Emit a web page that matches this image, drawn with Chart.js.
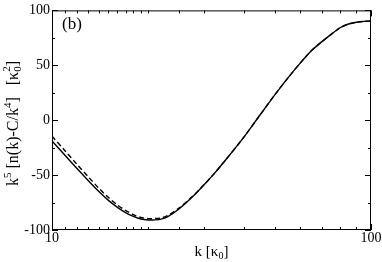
<!DOCTYPE html>
<html>
<head>
<meta charset="UTF-8">
<title>k^5 [n(k)-C/k^4]</title>
<script src="https://cdn.jsdelivr.net/npm/chart.js"></script>
<style>
  html, body { margin: 0; padding: 0; background: #fff; }
  #wrap { width: 382px; height: 262px; }
</style>
</head>
<body>
<div id="wrap"><canvas id="chart" width="382" height="262"></canvas></div>
<script>
  // values
  const kValues      = [10, 11, 12, 13, 14, 15, 16, 17, 18, 19, 20, 21, 22, 23, 25, 28, 30, 32, 35, 40, 45, 50, 55, 60, 65, 70, 75, 80, 85, 90, 95, 100];
  const solidValues  = [-19, -32.2, -44.3, -55.1, -64.7, -72.8, -79.2, -84.1, -87.6, -90, -90.9, -90.8, -90.1, -88, -80.8, -67.8, -58.6, -49.8, -36.3, -15.2, 5.2, 23.3, 38.8, 52, 63.2, 71.3, 78.2, 84.2, 87.6, 89.2, 90, 90.3];
  const dashedValues = [-14.5, -28, -40.5, -51.7, -61.7, -70.2, -77, -82.2, -86, -88.6, -89.6, -89.6, -89, -87, -80.1, -67.5, -58.6, -49.8, -36.3, -15.2, 5.2, 23.3, 38.8, 52, 63.2, 71.3, 78.2, 84.2, 87.6, 89.2, 90, 90.3];
  const xTickLabels = [10, 100];
  const yTickLabels = [-100, -50, 0, 50, 100];

  const serif = "'Liberation Serif', 'DejaVu Serif', serif";

  function drawRich(ctx, parts, cx, cy) {
    // parts: [text, size, dy, advance]
    let total = 0;
    parts.forEach(p => {
      ctx.font = p[1] + 'px ' + serif;
      if (p[3] !== false) total += ctx.measureText(p[0]).width;
    });
    let x = cx - total / 2;
    parts.forEach(p => {
      ctx.font = p[1] + 'px ' + serif;
      ctx.fillText(p[0], x, cy + p[2]);
      if (p[3] !== false) x += ctx.measureText(p[0]).width;
    });
  }

  const frame = {
    id: 'frame',
    afterDraw(chart) {
      const { ctx, chartArea: a, scales: { x, y } } = chart;
      ctx.save();
      ctx.strokeStyle = '#000';
      ctx.lineWidth = 1;
      ctx.strokeRect(a.left + 0.5, a.top + 0.5, a.right - a.left - 1, a.bottom - a.top - 1);
      ctx.beginPath();
      x.ticks.forEach(t => {
        const px = Math.round(x.getPixelForValue(t.value)) + 0.5;
        const len = xTickLabels.includes(t.value) ? 6 : 3;
        ctx.moveTo(px, a.bottom); ctx.lineTo(px, a.bottom - len);
        ctx.moveTo(px, a.top); ctx.lineTo(px, a.top + len);
      });
      y.ticks.forEach(t => {
        const py = Math.round(y.getPixelForValue(t.value)) + 0.5;
        const len = yTickLabels.includes(t.value) ? 6 : 3;
        ctx.moveTo(a.left, py); ctx.lineTo(a.left + len, py);
        ctx.moveTo(a.right, py); ctx.lineTo(a.right - len, py);
      });
      ctx.stroke();

      ctx.fillStyle = '#000';
      ctx.textBaseline = 'alphabetic';
      ctx.textAlign = 'left';
      // panel label
      ctx.font = '17px ' + serif;
      ctx.fillText('(b)', a.left + 10, 29);

      // x title
      drawRich(ctx, [['k [κ', 15, 0], ['0', 10, 3], [']', 15, 0]], (a.left + a.right) / 2, 256);

      // y title
      ctx.translate(18, 123.5);
      ctx.rotate(-Math.PI / 2);
      drawRich(ctx, [
        ['k', 16, 0], ['5', 11, -7], [' [n(k)-C/k', 16, 0], ['4', 11, -7], [']   [κ', 16, 0],
        ['2', 11, -8, false], ['0', 11, 3], [']', 16, 0]
      ], 0, 0);
      ctx.restore();
    }
  };

  new Chart(document.getElementById('chart'), {
    type: 'line',
    data: {
      datasets: [
        {
          label: 'solid',
          data: kValues.map((k, i) => ({ x: k, y: solidValues[i] })),
          borderColor: '#000', borderWidth: 1.4, pointRadius: 0,
          tension: 0.3, fill: false
        },
        {
          label: 'dashed',
          data: kValues.map((k, i) => ({ x: k, y: dashedValues[i] })),
          borderColor: '#000', borderWidth: 1.4, borderDash: [5, 3], pointRadius: 0,
          tension: 0.3, fill: false
        }
      ]
    },
    options: {
      responsive: false,
      animation: false,
      layout: { padding: { left: 0, right: 11, top: 5, bottom: 0 } },
      plugins: { legend: { display: false }, tooltip: { enabled: false } },
      scales: {
        x: {
          type: 'logarithmic', min: 10, max: 100,
          afterFit: s => { s.height = 32; },
          grid: { display: false, drawTicks: false }, border: { display: false },
          ticks: {
            autoSkip: false, maxRotation: 0, padding: 0,
            color: '#000', font: { family: serif, size: 14 },
            callback: v => xTickLabels.includes(v) ? String(v) : ''
          }
        },
        y: {
          min: -100, max: 100,
          afterFit: s => { s.width = 52; },
          grid: { display: false, drawTicks: false }, border: { display: false },
          ticks: {
            stepSize: 25, padding: 2,
            color: '#000', font: { family: serif, size: 14 },
            callback: v => yTickLabels.includes(v) ? String(v) : ''
          }
        }
      }
    },
    plugins: [frame]
  });
</script>
</body>
</html>
